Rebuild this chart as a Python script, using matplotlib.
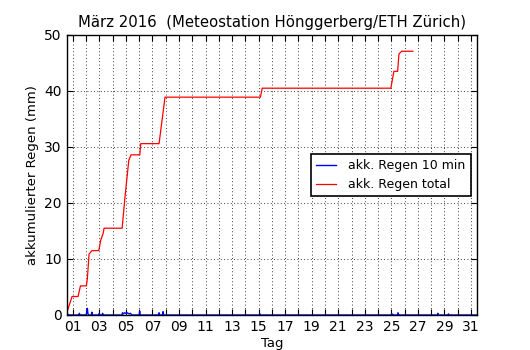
import numpy as np
import matplotlib
matplotlib.use("Agg")
import matplotlib.pyplot as plt
from matplotlib.ticker import FixedLocator, FuncFormatter

# Tag im Monat (Dezimal), Werte in mm
t_total = [0.55, 0.95, 1.40, 1.58, 2.03, 2.10, 2.23, 2.45, 2.96, 3.11, 3.28, 3.36,
           4.72, 4.94, 5.22, 5.39, 6.05, 6.12, 7.50, 7.95, 15.14, 15.27,
           24.96, 25.19, 25.47, 25.57, 25.77, 26.62]
regen_total = [0.4, 3.3, 3.3, 5.2, 5.2, 6.5, 10.9, 11.5, 11.5, 13.4, 14.5, 15.5,
               15.5, 21.2, 27.6, 28.6, 28.6, 30.6, 30.6, 38.9, 38.9, 40.5,
               40.5, 43.5, 43.5, 46.6, 47.1, 47.1]

t_10min = [0.55, 0.62, 0.66, 0.70, 1.45, 1.50, 1.55, 2.00, 2.05, 2.10, 2.14, 2.18,
           2.40, 2.44, 2.48, 2.95, 3.00, 3.05, 3.20, 3.25, 3.30,
           4.70, 4.75, 4.80, 4.90, 5.00, 5.10, 5.25, 5.35, 5.45,
           6.00, 6.04, 6.08, 7.45, 7.50, 7.55, 7.75, 7.80, 7.85,
           15.05, 15.10, 15.15, 24.95, 25.05, 25.15, 25.45, 25.50, 25.55,
           28.45, 28.50, 28.55, 29.25, 29.30, 29.35, 31.45]
regen_10min = [0.0, 0.2, 0.0, 0.0, 0.0, 0.3, 0.0, 0.0, 0.4, 1.2, 0.3, 0.0,
               0.0, 0.5, 0.0, 0.0, 0.3, 0.0, 0.0, 0.3, 0.0,
               0.0, 0.4, 0.2, 0.4, 0.3, 0.4, 0.2, 0.3, 0.0,
               0.0, 0.7, 0.0, 0.0, 0.4, 0.0, 0.0, 0.6, 0.0,
               0.0, 0.2, 0.0, 0.0, 0.2, 0.0, 0.0, 0.4, 0.0,
               0.0, 0.3, 0.0, 0.0, 0.2, 0.0, 0.0]

tage = list(range(1, 32))

fig = plt.figure(figsize=(5.3, 3.5), dpi=100)
ax = fig.add_axes([0.126, 0.10, 0.774, 0.80])

ax.plot(t_10min, regen_10min, color="b", linewidth=1, label="akk. Regen 10 min")
ax.plot(t_total, regen_total, color="r", linewidth=0.9, label="akk. Regen total")

ax.set_xlim(0.55, 31.45)
ax.set_ylim(0, 50)
ax.xaxis.set_major_locator(FixedLocator(tage))
ax.xaxis.set_major_formatter(FuncFormatter(lambda v, p: "%02d" % int(round(v)) if int(round(v)) % 2 == 1 else ""))
ax.set_yticks([0, 10, 20, 30, 40, 50])
ax.tick_params(direction="in", top=True, right=True, labelsize=10, length=4)
ax.grid(True, color="k", linestyle=(0, (1, 3)), linewidth=0.6)

for s in ax.spines.values():
    s.set_linewidth(1.0)

ax.set_title("März 2016  (Meteostation Hönggerberg/ETH Zürich)", fontsize=10.7)
ax.set_xlabel("Tag", fontsize=9.5, labelpad=2)
ax.set_ylabel("akkumulierter Regen (mm)", fontsize=9.5)

leg = ax.legend(loc="center right", fontsize=9, fancybox=False, framealpha=1,
                edgecolor="k", handlelength=1.6, handletextpad=1.0)
leg.get_frame().set_linewidth(1.2)

fig.savefig("out.png", dpi=100)
